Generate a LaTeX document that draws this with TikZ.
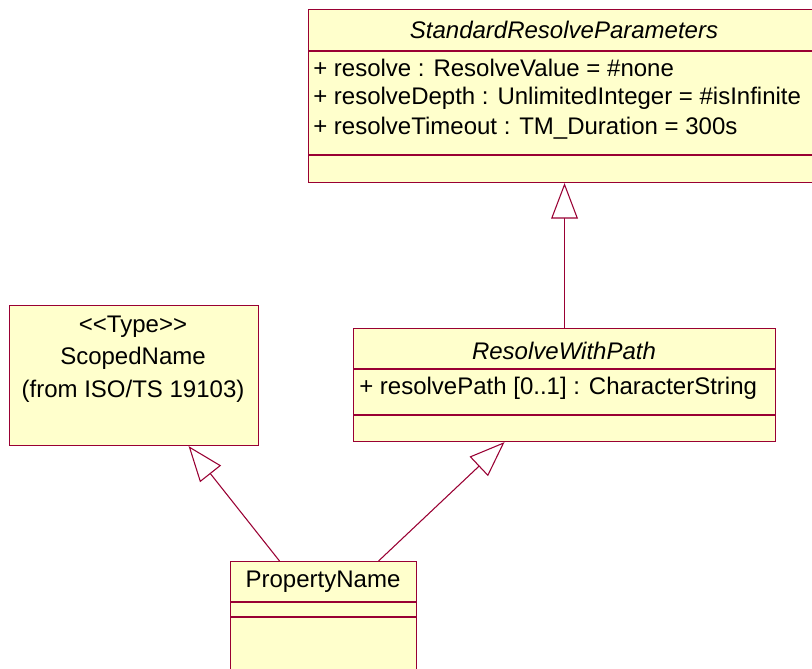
\documentclass[tikz,border=0pt]{standalone}
\usepackage{fontspec}
\setmainfont{Liberation Sans}
\usetikzlibrary{arrows.meta, positioning}

\definecolor{umlline}{RGB}{153,0,51}
\definecolor{umlfill}{RGB}{255,255,204}

\begin{document}
\begin{tikzpicture}[x=0.75pt, y=-0.75pt, font=\fontsize{18}{22}\selectfont]
  \tikzstyle{class} = [draw = umlline, fill = umlfill, line width = 0.8pt, anchor = north west, inner sep = 0pt];
  \tikzstyle{attr} = [anchor = west, inner sep = 0pt];
  \tikzstyle{gen} = [draw = umlline, line width = 0.8pt, -{Triangle[open, length = 26.6pt, width = 20pt, fill = white]}];

  \clip (0,0) rectangle (812,668);

  % classes
  \node[class, minimum width = 384pt, minimum height = 129.75pt] (srp) at (308,9) {};
  \node[class, minimum width = 186.75pt, minimum height = 105pt] (scoped) at (9,305) {};
  \node[class, minimum width = 316.5pt, minimum height = 84.75pt] (rwp) at (353,328) {};
  \node[class, minimum width = 139.5pt, minimum height = 90pt] (pname) at (230,561) {};

  % compartments
  \draw[umlline, line width = 0.8pt] (srp.west |- 0,51) -- (srp.east |- 0,51) (srp.west |- 0,155) -- (srp.east |- 0,155);
  \draw[umlline, line width = 0.8pt] (rwp.west |- 0,369) -- (rwp.east |- 0,369) (rwp.west |- 0,415) -- (rwp.east |- 0,415);
  \draw[umlline, line width = 0.8pt] (pname.west |- 0,602) -- (pname.east |- 0,602) (pname.west |- 0,617) -- (pname.east |- 0,617);

  % texts
  \node (srpname) at (564,30) {\textit{StandardResolveParameters}};
  \node[attr] (srpa1) at (313,68) {+ resolve : ResolveValue = \#none};
  \node[attr] (srpa2) at (313,98) {+ resolveDepth : UnlimitedInteger = \#isInfinite};
  \node[attr] (srpa3) at (313,128) {+ resolveTimeout : TM\_Duration = 300s};

  \node (scopedst) at (133,327) {<{}<Type>{}>};
  \node (scopedname) at (133,358) {ScopedName};
  \node (scopedfrom) at (133,391) {(from ISO/TS 19103)};

  \node (rwpname) at (564,351) {\textit{ResolveWithPath}};
  \node[attr] (rwpa1) at (359,388) {+ resolvePath [0..1] : CharacterString};

  \node (pnamename) at (323,582) {PropertyName};

  % generalizations
  \draw[gen] (rwp.north) -- (srp.south);
  \draw[gen] ([xshift = -33pt]pname.north) -- ([xshift = 40.9pt]scoped.south);
  \draw[gen] ([xshift = 41.25pt]pname.north) -- ([xshift = -45pt]rwp.south);
\end{tikzpicture}
\end{document}
